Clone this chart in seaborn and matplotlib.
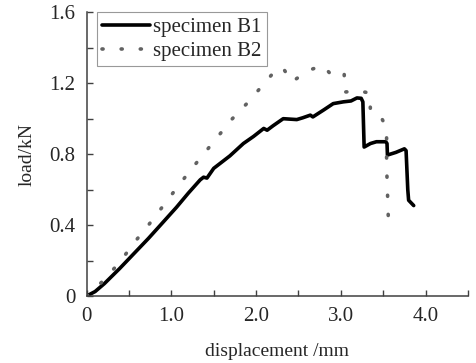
import matplotlib
matplotlib.use("Agg")
import matplotlib.pyplot as plt
import seaborn as sns
import pandas as pd

# specimen B1 (solid black)
b1_disp = [0, 0.1, 0.21, 0.39, 0.56, 0.73, 0.9, 1.06, 1.2, 1.34, 1.38, 1.42, 1.5, 1.69,
           1.85, 1.97, 2.09, 2.13, 2.2, 2.32, 2.48, 2.55, 2.64, 2.67, 2.8, 2.91, 3.03,
           3.12, 3.19, 3.24, 3.26, 3.275, 3.35, 3.42, 3.53, 3.545, 3.55, 3.65, 3.75,
           3.77, 3.79, 3.80, 3.86]
b1_load = [0, 0.025, 0.07, 0.155, 0.24, 0.325, 0.415, 0.50, 0.58, 0.655, 0.67, 0.665,
           0.72, 0.79, 0.86, 0.90, 0.945, 0.935, 0.96, 1.0, 0.995, 1.005, 1.02, 1.01,
           1.05, 1.085, 1.095, 1.10, 1.117, 1.115, 1.095, 0.84, 0.86, 0.87, 0.87, 0.86,
           0.795, 0.81, 0.83, 0.82, 0.60, 0.54, 0.51]

# specimen B2 (grey dotted)
b2_disp = [0, 0.1, 0.21, 0.39, 0.56, 0.73, 0.89, 1.06, 1.22, 1.38, 1.55, 1.72, 1.90,
           2.08, 2.26, 2.33, 2.42, 2.62, 2.79, 2.90, 3.04, 3.04, 3.20, 3.34, 3.35, 3.48,
           3.54, 3.54, 3.56]
b2_load = [0, 0.04, 0.094, 0.19, 0.30, 0.40, 0.50, 0.607, 0.706, 0.80, 0.90, 1.0, 1.09,
           1.19, 1.29, 1.277, 1.207, 1.273, 1.30, 1.24, 1.255, 1.15, 1.157, 1.145, 1.04,
           1.005, 0.945, 0.74, 0.443]

x_ticks = [0, 1.0, 2.0, 3.0, 4.0]
x_ticklabels = ["0", "1.0", "2.0", "3.0", "4.0"]
y_ticks = [0, 0.4, 0.8, 1.2, 1.6]
y_ticklabels = ["0", "0.4", "0.8", "1.2", "1.6"]

sns.set_style("ticks")
plt.rcParams["font.family"] = ["Liberation Serif", "DejaVu Serif"]

fig = plt.figure(figsize=(4.77, 3.63), dpi=100)
ax = fig.add_axes([0.1816, 0.1846, 0.7994, 0.7815])

df1 = pd.DataFrame({"disp": b1_disp, "load": b1_load})
df2 = pd.DataFrame({"disp": b2_disp, "load": b2_load})

sns.lineplot(data=df1, x="disp", y="load", sort=False, estimator=None, ax=ax,
             color="black", lw=2.6, label="specimen B1")
sns.lineplot(data=df2, x="disp", y="load", sort=False, estimator=None, ax=ax,
             color="#626262", lw=2.6, linestyle=(0, (0.3, 5.0)),
             dash_capstyle="round", label="specimen B2")

ax.set_xlim(0, 4.5)
ax.set_ylim(0, 1.6)
ax.set_xticks(x_ticks)
ax.set_xticklabels(x_ticklabels)
ax.set_yticks(y_ticks)
ax.set_yticklabels(y_ticklabels)
ax.set_xticks([0.5, 1.5, 2.5, 3.5, 4.5], minor=True)
ax.set_yticks([0.2, 0.6, 1.0, 1.4], minor=True)
ax.tick_params(which="both", direction="in", length=4, width=1, color="#404040",
               labelsize=15)
ax.tick_params(axis="x", pad=8)
ax.tick_params(axis="y", pad=8)

sns.despine(ax=ax)
for s in ["left", "bottom"]:
    ax.spines[s].set_color("#404040")
    ax.spines[s].set_linewidth(1.1)

ax.set_xlabel("displacement /mm", fontsize=14, labelpad=12)
ax.set_ylabel("load/kN", fontsize=14, labelpad=10)

leg = ax.legend(loc="upper left", bbox_to_anchor=(0.027, 1.0), borderaxespad=0,
                fontsize=15, frameon=True, fancybox=False, framealpha=1,
                edgecolor="#999999", handlelength=2.3, handletextpad=0.15,
                labelspacing=0.2, borderpad=0.25)
leg.get_frame().set_linewidth(0.8)

fig.savefig("out.png", dpi=100)
